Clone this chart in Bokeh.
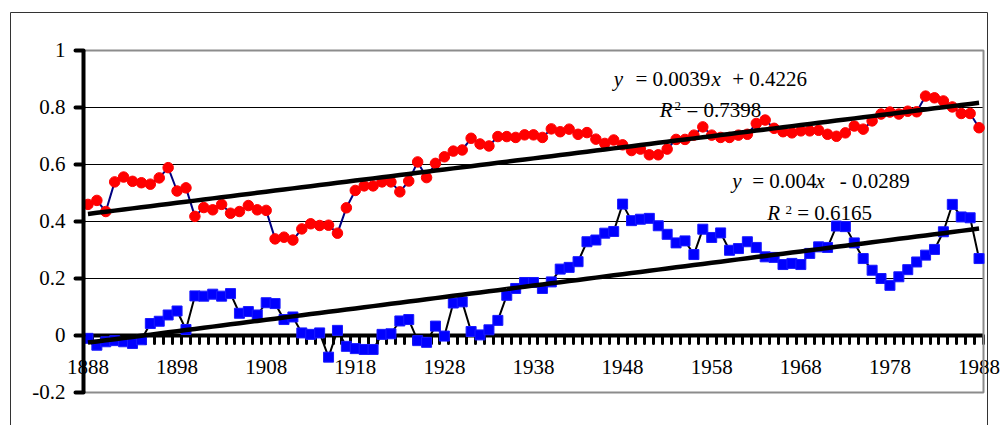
from bokeh.plotting import figure
from bokeh.models import FixedTicker, LinearAxis, Range1d
from bokeh.core.properties import value
from bokeh.embed import file_html
from bokeh.resources import INLINE

# ---- data -------------------------------------------------------------
years = list(range(1888, 1989))

upper_series = [
    0.460, 0.474, 0.435, 0.539, 0.556, 0.541, 0.536, 0.531, 0.553, 0.589,
    0.507, 0.518, 0.418, 0.449, 0.441, 0.460, 0.429, 0.435, 0.456, 0.441,
    0.439, 0.339, 0.345, 0.335, 0.374, 0.392, 0.386, 0.387, 0.359, 0.448,
    0.509, 0.525, 0.525, 0.539, 0.539, 0.504, 0.542, 0.609, 0.554, 0.604,
    0.627, 0.647, 0.651, 0.692, 0.672, 0.665, 0.698, 0.698, 0.695, 0.704,
    0.704, 0.695, 0.725, 0.715, 0.724, 0.706, 0.712, 0.689, 0.674, 0.686,
    0.669, 0.649, 0.654, 0.634, 0.634, 0.654, 0.688, 0.688, 0.703, 0.732,
    0.703, 0.695, 0.695, 0.703, 0.706, 0.744, 0.756, 0.727, 0.715, 0.711,
    0.718, 0.718, 0.720, 0.706, 0.699, 0.711, 0.735, 0.724, 0.753, 0.777,
    0.784, 0.777, 0.787, 0.785, 0.840, 0.834, 0.823, 0.802, 0.779, 0.779,
    0.729,
]

lower_series = [
    -0.010, -0.034, -0.022, -0.018, -0.022, -0.028, -0.015, 0.042, 0.050, 0.072,
    0.086, 0.021, 0.139, 0.138, 0.145, 0.138, 0.147, 0.078, 0.084, 0.072,
    0.115, 0.112, 0.056, 0.065, 0.009, 0.004, 0.009, -0.076, 0.018, -0.038,
    -0.046, -0.049, -0.049, 0.004, 0.006, 0.051, 0.056, -0.018, -0.024, 0.033,
    -0.002, 0.114, 0.118, 0.014, 0.002, 0.020, 0.053, 0.141, 0.165, 0.186,
    0.186, 0.165, 0.188, 0.233, 0.239, 0.259, 0.329, 0.335, 0.359, 0.365,
    0.461, 0.403, 0.408, 0.411, 0.385, 0.355, 0.325, 0.332, 0.284, 0.373,
    0.344, 0.360, 0.299, 0.305, 0.329, 0.309, 0.276, 0.274, 0.249, 0.253,
    0.249, 0.288, 0.311, 0.309, 0.384, 0.382, 0.325, 0.270, 0.229, 0.200,
    0.176, 0.206, 0.231, 0.258, 0.282, 0.302, 0.364, 0.460, 0.416, 0.413,
    0.270,
]

# linear fits (x = 1, 2, ... over the years)
upper_slope, upper_intercept, upper_r2 = 0.0039, 0.4226, "0.7398"
lower_slope, lower_intercept, lower_r2 = 0.004, -0.0289, "0.6165"

x_label_years = [1888, 1898, 1908, 1918, 1928, 1938, 1948, 1958, 1968, 1978, 1988]
y_ticks = [-0.2, 0.0, 0.2, 0.4, 0.6, 0.8, 1.0]
y_tick_labels = ["-0.2", "0", "0.2", "0.4", "0.6", "0.8", "1"]
grid_levels = [0.2, 0.4, 0.6, 0.8]

# ---- layout (pixels) ----------------------------------------------------------
W, H = 1000, 425
PLOT_L, PLOT_R, PLOT_T, PLOT_B = 83, 983, 50, 392     # plot area inside the canvas
CHART_L, CHART_R, CHART_T, CHART_B = 10, 987, 12, 445  # chart-area border
YLABEL_RIGHT = 65       # right edge of the value labels
FONT = "Liberation Serif"
FS, FS_SUP = 21, 13
LIFT = 0.38             # baseline correction, as a fraction of the font size

x_lo, x_hi = years[0] - 0.5, years[-1] + 0.5          # category edges
y_lo, y_hi = y_ticks[0], y_ticks[-1]
XS = (PLOT_R - PLOT_L) / (x_hi - x_lo)
YS = (PLOT_B - PLOT_T) / (y_hi - y_lo)


def px_x(px):
    return x_lo + (px - PLOT_L) / XS


def px_y(py):
    return y_hi - (py - PLOT_T) / YS


def base_shift(size):
    """Data offset that puts a text baseline `size`-dependent pixels higher."""
    return LIFT * size / YS


# ---- figure ----------------------------------------------------------------
p = figure(
    width=W, height=H, title=None,
    output_backend="svg", toolbar_location=None,
    x_range=Range1d(px_x(0), px_x(W)),
    y_range=Range1d(px_y(H), px_y(0)),
    x_axis_location=None, y_axis_location=None,
    min_border=0,
)
p.background_fill_color = "white"
p.border_fill_color = "white"
p.outline_line_color = None
p.xgrid.visible = False
p.ygrid.visible = False

# chart-area border
p.quad(left=[px_x(CHART_L)], right=[px_x(CHART_R)], top=[px_y(CHART_T)], bottom=[px_y(CHART_B)],
       fill_color=None, line_color="#333333", line_width=1)

# horizontal gridlines across the plot area
p.segment(x0=[x_lo] * len(grid_levels), x1=[x_hi] * len(grid_levels),
          y0=grid_levels, y1=grid_levels, line_color="black", line_width=1)

# value axis (line and ticks; labels drawn as text below)
yax = LinearAxis(
    fixed_location=x_lo, bounds=(y_lo, y_hi),
    ticker=FixedTicker(ticks=y_ticks),
    axis_line_color="black", axis_line_width=4,
    major_tick_line_color="black", major_tick_line_width=4, major_tick_line_cap="round",
    major_tick_out=8, major_tick_in=0,
    minor_tick_line_color=None, minor_tick_out=0, minor_tick_in=0,
    major_label_text_color=None,
    level="guide",
)

# category axis crossing at zero: marks on category edges
bounds = [y - 0.5 for y in years] + [years[-1] + 0.5]
xax = LinearAxis(
    fixed_location=0, bounds=(x_lo, x_hi),
    ticker=FixedTicker(ticks=x_label_years, minor_ticks=bounds),
    axis_line_color="black", axis_line_width=4,
    major_tick_line_color=None, major_tick_out=0, major_tick_in=0,
    minor_tick_line_color="black", minor_tick_line_width=3, minor_tick_line_cap="round",
    minor_tick_out=8, minor_tick_in=0,
    major_label_text_color=None,
    level="underlay",
)
p.add_layout(xax, "below")

# tick labels: value labels centred on their ticks, year labels below the zero line
p.text(x=[px_x(YLABEL_RIGHT)] * len(y_ticks),
       y=[t - 7 / YS + base_shift(FS) for t in y_ticks], text=y_tick_labels,
       text_font=value(FONT), text_font_size=f"{FS}px", text_color="black",
       text_align="right", text_baseline="alphabetic")
p.text(x=x_label_years, y=[-39 / YS + base_shift(FS)] * len(x_label_years),
       text=[str(v) for v in x_label_years],
       text_font=value(FONT), text_font_size=f"{FS}px", text_color="black",
       text_align="center", text_baseline="alphabetic")

# plot-area frame
p.quad(left=[x_lo], right=[x_hi], top=[y_hi], bottom=[y_lo],
       fill_color=None, line_color="#8c8c8c", line_width=2)


# ---- trendline equations (beneath the data) --------------------------------------
def rich_text(px, py, pieces):
    for dx, dy, txt, style, size in pieces:
        p.text(x=[px_x(px + dx)], y=[px_y(py + dy) + base_shift(size)], text=[txt],
               text_font=value(FONT), text_font_style=style, text_font_size=f"{size}px",
               text_align="left", text_baseline="alphabetic", text_color="black")


rich_text(613.3, 86, [
    (0, 0, "y", "italic", FS),
    (21.7, 0, f"= {upper_slope}", "normal", FS),
    (97.7, 0, "x", "italic", FS),
    (118.4, 0, f"+ {upper_intercept}", "normal", FS),
])
rich_text(659.3, 117.3, [
    (0, 0, "R", "italic", FS),
    (14.7, -7, "2", "normal", FS_SUP),
    (26.7, 0, f"= {upper_r2}", "normal", FS),
])
rich_text(731.7, 188.3, [
    (0, 0, "y", "italic", FS),
    (20, 0, f"= {lower_slope}", "normal", FS),
    (83.3, 0, "x", "italic", FS),
    (107.6, 0, f"- {abs(lower_intercept)}", "normal", FS),
])
rich_text(766.7, 220, [
    (0, 0, "R", "italic", FS),
    (18.3, -6, "2", "normal", FS_SUP),
    (30, 0, f"= {lower_r2}", "normal", FS),
])

# ---- series -------------------------------------------------------------------
p.line(years, lower_series, line_color="black", line_width=2)
p.scatter(years, lower_series, marker="square", size=10,
          fill_color="#0000ff", line_color="#1a1aff")

p.line(years, upper_series, line_color="#000080", line_width=2)
p.scatter(years, upper_series, marker="circle", size=10.5,
          fill_color="#ff0000", line_color="#ff0000")

# ---- linear trendlines ---------------------------------------------------------------
idx = [i + 1 for i in range(len(years))]
upper_fit = [upper_slope * k + upper_intercept for k in idx]
lower_fit = [lower_slope * k + lower_intercept for k in idx]
p.line(years, upper_fit, line_color="black", line_width=4.5)
p.line(years, lower_fit, line_color="black", line_width=4.5)

p.add_layout(yax, "left")

open("out.html", "w").write(file_html(p, INLINE))
